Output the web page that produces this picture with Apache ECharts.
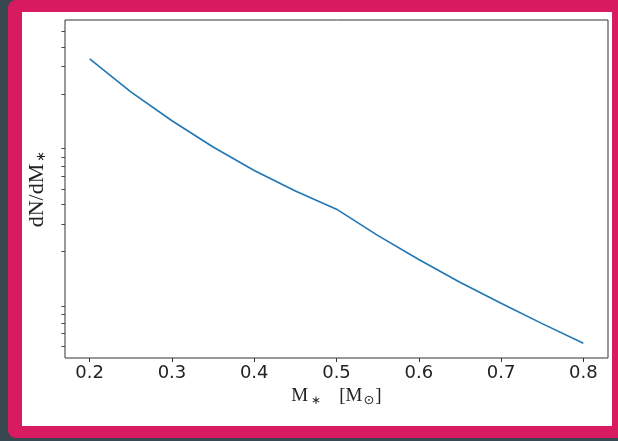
<!DOCTYPE html>
<html>
<head>
<meta charset="utf-8">
<script src="https://cdn.jsdelivr.net/npm/echarts@6/dist/echarts.min.js"></script>
<style>
  html, body { margin: 0; padding: 0; width: 618px; height: 441px; overflow: hidden; background: #37474f; }
  #frame { position: absolute; left: 8px; top: 0px; width: 590px; height: 414px; border-style: solid; border-color: #d81b60; border-width: 12px 13px 12px 14px; border-radius: 8px; background: #ffffff; }
  #chart { position: absolute; left: 0; top: 0; width: 618px; height: 441px; }
</style>
</head>
<body>
<div id="frame"></div>
<div id="chart"></div>
<script>
// Stellar mass (M_sun) and dN/dM
const masses = [0.2, 0.25, 0.3, 0.35, 0.4, 0.45, 0.5, 0.55, 0.6, 0.65, 0.7, 0.75, 0.8];
const dndm = [33.4, 20.6, 13.5, 9.2, 6.52, 4.83, 3.7, 2.52, 1.77, 1.27, 0.933, 0.693, 0.52];
const xTicks = [0.2, 0.3, 0.4, 0.5, 0.6, 0.7, 0.8];
const yMinorTicks = [0.5, 0.6, 0.7, 0.8, 0.9, 2, 3, 4, 5, 6, 7, 8, 9, 20, 30, 40, 50];
const xRange = [0.17, 0.83];
const yRange = [0.419, 59.0];

const chart = echarts.init(document.getElementById('chart'), null, { renderer: 'canvas' });
const serif = 'Liberation Serif';
const option = {
  animation: false,
  backgroundColor: 'transparent',
  grid: { left: 65, top: 20, right: 10, bottom: 83, show: true, borderColor: '#333', borderWidth: 1, backgroundColor: 'transparent' },
  xAxis: {
    type: 'value', min: xRange[0], max: xRange[1],
    axisLine: { show: false },
    splitLine: { show: false },
    axisTick: { show: true, length: 4, lineStyle: { color: '#333', width: 1 }, customValues: xTicks },
    axisLabel: { customValues: xTicks, fontFamily: 'DejaVu Sans', fontSize: 18, color: '#222', margin: 6, formatter: v => v.toFixed(1) },
    name: '{m|M}{s|∗}{sp| }{m|[M}{o|⊙}{m|]}',
    nameLocation: 'middle', nameGap: 23,
    nameTextStyle: {
      rich: {
        m: { fontFamily: serif, fontSize: 19, color: '#222' },
        s: { fontFamily: serif, fontSize: 12, color: '#222', padding: [8, 0, 0, 3] },
        sp: { fontFamily: serif, fontSize: 19, width: 18 },
        o: { fontFamily: 'DejaVu Sans', fontSize: 13, color: '#222', padding: [8, 1, 0, 1] }
      }
    }
  },
  yAxis: {
    type: 'log', logBase: 10, min: yRange[0], max: yRange[1],
    axisLine: { show: false },
    splitLine: { show: false },
    axisTick: { show: false },
    axisLabel: { show: false },
    name: '{m|dN/dM}{s|∗}',
    nameLocation: 'middle', nameRotate: 90, nameGap: 17,
    nameTextStyle: {
      rich: {
        m: { fontFamily: serif, fontSize: 22, color: '#222' },
        s: { fontFamily: serif, fontSize: 13, color: '#222', padding: [9, 0, 0, 2] }
      }
    }
  },
  series: [
    {
      type: 'line',
      data: masses.map((m, i) => [m, dndm[i]]),
      showSymbol: false,
      lineStyle: { color: '#1f77b4', width: 1.6 },
      z: 3
    },
    {
      type: 'custom',
      silent: true,
      clip: false,
      data: yMinorTicks.map(v => [xRange[0], v]),
      encode: { x: 0, y: 1 },
      renderItem: function (params, api) {
        const p = api.coord([api.value(0), api.value(1)]);
        const y = Math.round(p[1]) + 0.5;
        return { type: 'line', shape: { x1: p[0] - 3.5, y1: y, x2: p[0], y2: y }, style: { stroke: '#444', lineWidth: 1 } };
      },
      z: 4
    }
  ]
};
chart.setOption(option);
</script>
</body>
</html>
